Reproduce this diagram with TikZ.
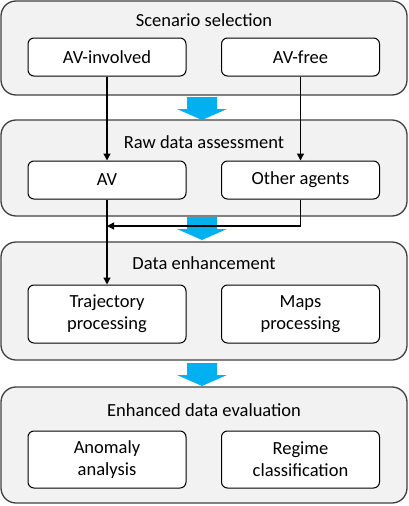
\documentclass[tikz,border=0pt]{standalone}
\usepackage{fontspec}
\setmainfont{Carlito}
\usetikzlibrary{arrows.meta, positioning}
\definecolor{panelgray}{RGB}{242,242,242}
\definecolor{panelline}{RGB}{64,64,64}
\definecolor{flowblue}{RGB}{0,176,240}

\begin{document}
\begin{tikzpicture}[
  x=1pt, y=-1pt,
  font=\fontsize{18.5}{22}\selectfont,
  panel/.style={rectangle, rounded corners=15pt, draw=panelline, line width=1.3pt,
    fill=panelgray, minimum width=406pt, minimum height=#1, inner sep=0pt},
  box/.style={rectangle, rounded corners=6pt, draw=black, line width=1pt,
    fill=white, minimum width=158pt, minimum height=#1, align=center, inner sep=2pt},
  title/.style={inner sep=0pt, anchor=center},
  arr/.style={-{Triangle[length=7pt, width=7pt]}, draw=black, line width=1.3pt}
]
\useasboundingbox (0,0) rectangle (408,506);
% panels
\node[panel=94pt] (selp) at (204,48) {};
\node[panel=96pt] (rawp) at (204,168) {};
\node[panel=118pt] (enhp) at (204,301) {};
\node[panel=116pt] (evap) at (204,445) {};
\node[title] (selt) at (204,20) {Scenario selection};
\node[title] (rawt) at (204,142) {Raw data assessment};
\node[title] (enht) at (204,263) {Data enhancement};
\node[title] (evat) at (204,410) {Enhanced data evaluation};
% boxes
\node[box=38pt] (avinv) at (107,57) {AV-involved};
\node[box=38pt] (avfree) at (300.5,57) {AV-free};
\node[box=38pt] (av) at (107,180) {AV};
\node[box=38pt] (other) at (300.5,180) {Other agents};
\node[box=58pt] (traj) at (107,314) {Trajectory\\processing};
\node[box=58pt] (maps) at (300.5,314) {Maps\\processing};
\node[box=57pt] (anom) at (107,459.5) {Anomaly\\analysis};
\node[box=57pt] (regime) at (300.5,459.5) {Regime\\classification};
% big blue arrows between stages
\foreach \t in {97,217,363}
  \fill[flowblue] (187,\t) -- (217,\t) -- (217,\t+12) -- (227,\t+12)
    -- (202,\t+23) -- (177,\t+12) -- (187,\t+12) -- cycle;
% data flow
\coordinate (merge) at (av.south |- 0,226);
\draw[arr] (avinv.south) -- (av.north);
\draw[arr] (avfree.south) -- (other.north);
\draw[arr] (other.south) |- (merge);
\draw[arr] (av.south) -- (traj.north);
\end{tikzpicture}
\end{document}
